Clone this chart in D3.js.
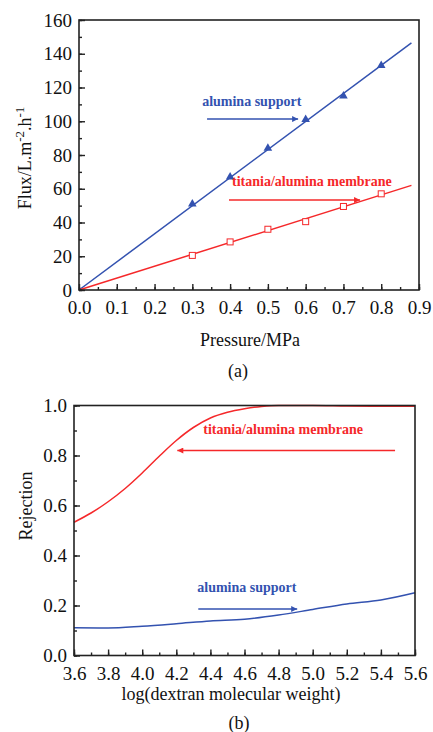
<!DOCTYPE html>
<html>
<head>
<meta charset="utf-8">
<script src="https://cdn.jsdelivr.net/npm/d3@7"></script>
<style>
  body { margin: 0; background: #fff; }
</style>
</head>
<body>
<script>
// panel (a): flux vs pressure
const pressure = [0.3, 0.4, 0.5, 0.6, 0.7, 0.8];
const fluxSupport = [51, 67, 84, 101, 115, 133];
const fluxMembrane = [20.5, 28.5, 36, 40.5, 49.5, 57];
const fitSupport = [[0, 0], [0.88, 146.5]];
const fitMembrane = [[0, 0], [0.88, 62]];
const xTicksA = [0, 0.1, 0.2, 0.3, 0.4, 0.5, 0.6, 0.7, 0.8, 0.9];
const yTicksA = [0, 20, 40, 60, 80, 100, 120, 140, 160];

// panel (b): rejection vs log MW
const logMwMembrane = [3.6, 3.7, 3.8, 3.9, 4.0, 4.1, 4.2, 4.3, 4.4, 4.5, 4.6, 4.7, 4.8, 5.0, 5.2, 5.4, 5.6];
const rejMembrane = [0.533, 0.57, 0.615, 0.668, 0.73, 0.797, 0.86, 0.912, 0.95, 0.973, 0.987, 0.996, 1.0, 1.0, 0.998, 0.997, 0.997];
const logMwSupport = [3.6, 3.8, 4.0, 4.2, 4.4, 4.6, 4.8, 5.0, 5.2, 5.4, 5.6];
const rejSupport = [0.111, 0.11, 0.117, 0.127, 0.138, 0.145, 0.162, 0.184, 0.206, 0.222, 0.251];
const xTicksB = [3.6, 3.8, 4.0, 4.2, 4.4, 4.6, 4.8, 5.0, 5.2, 5.4, 5.6];
const yTicksB = [0, 0.2, 0.4, 0.6, 0.8, 1.0];

const blue = "#3352b0";
const red = "#f5282a";
const serif = "'Liberation Serif', 'Times New Roman', Times, 'DejaVu Serif', serif";

const svg = d3.select("body").append("svg")
  .attr("width", 433)
  .attr("height", 732)
  .attr("font-family", serif);

const defs = svg.append("defs");
[["arrBlue", blue], ["arrRed", red]].forEach(([id, c]) => {
  defs.append("marker")
    .attr("id", id)
    .attr("viewBox", "0 0 10 10")
    .attr("refX", 10).attr("refY", 5)
    .attr("markerWidth", 9).attr("markerHeight", 6)
    .attr("markerUnits", "userSpaceOnUse")
    .attr("orient", "auto")
    .append("path")
    .attr("d", "M0,0L10,5L0,10z")
    .attr("fill", c);
});

function frame(g, x, y, xTicks, yTicks, xMinorStep, yMinorStep, xFmt, yFmt) {
  const [x0, x1] = x.range();
  const [y0, y1] = y.range();
  g.append("rect")
    .attr("x", x0).attr("y", y1)
    .attr("width", x1 - x0).attr("height", y0 - y1)
    .attr("fill", "none").attr("stroke", "#222").attr("stroke-width", 1.6);

  const xd = x.domain(), yd = y.domain();
  const xMinor = d3.range(xd[0], xd[1] + 1e-9, xMinorStep);
  const yMinor = d3.range(yd[0], yd[1] + 1e-9, yMinorStep);

  const style = a => {
    a.attr("font-family", serif);
    a.select(".domain").remove();
    a.selectAll("line").attr("stroke", "#222").attr("stroke-width", 1.4);
    a.selectAll("text").attr("fill", "#111").style("font-size", "19px").style("font-family", serif);
  };

  // bottom ticks (inside)
  g.append("g").attr("transform", `translate(0,${y0})`)
    .call(d3.axisBottom(x).tickValues(xMinor).tickSize(-3).tickFormat(""))
    .call(style);
  g.append("g").attr("transform", `translate(0,${y0})`)
    .call(d3.axisBottom(x).tickValues(xTicks).tickSize(-6).tickPadding(11).tickFormat(xFmt))
    .call(style);

  // left ticks (inside)
  g.append("g").attr("transform", `translate(${x0},0)`)
    .call(d3.axisLeft(y).tickValues(yMinor).tickSize(-3).tickFormat(""))
    .call(style);
  g.append("g").attr("transform", `translate(${x0},0)`)
    .call(d3.axisLeft(y).tickValues(yTicks).tickSize(-6).tickPadding(7).tickFormat(yFmt))
    .call(style);
}

function note(g, x, y, label, tx, ty, ax0, ax1, ay, color, marker) {
  g.append("text")
    .attr("x", x(tx)).attr("y", y(ty))
    .attr("fill", color)
    .style("font-size", "14px").style("font-weight", "bold")
    .text(label);
  g.append("line")
    .attr("x1", x(ax0)).attr("x2", x(ax1))
    .attr("y1", y(ay)).attr("y2", y(ay))
    .attr("stroke", color).attr("stroke-width", 1.5)
    .attr("marker-end", `url(#${marker})`);
}

// ---------- panel (a) ----------
const xA = d3.scaleLinear().domain([0, 0.9]).range([79, 419]);
const yA = d3.scaleLinear().domain([0, 160]).range([290, 20]);
const gA = svg.append("g");

const lineA = d3.line().x(d => xA(d[0])).y(d => yA(d[1]));
gA.append("path").attr("d", lineA(fitSupport))
  .attr("fill", "none").attr("stroke", blue).attr("stroke-width", 1.5);
gA.append("path").attr("d", lineA(fitMembrane))
  .attr("fill", "none").attr("stroke", red).attr("stroke-width", 1.5);

gA.selectAll(".tri").data(pressure).enter().append("path")
  .attr("class", "tri")
  .attr("transform", (d, i) => `translate(${xA(d)},${yA(fluxSupport[i])})`)
  .attr("d", d3.symbol(d3.symbolTriangle, 32))
  .attr("fill", blue);
gA.selectAll(".sq").data(pressure).enter().append("rect")
  .attr("class", "sq")
  .attr("x", d => xA(d) - 3).attr("y", (d, i) => yA(fluxMembrane[i]) - 3)
  .attr("width", 6).attr("height", 6)
  .attr("fill", "#fff").attr("stroke", red).attr("stroke-width", 1);

frame(gA, xA, yA, xTicksA, yTicksA, 0.05, 10, d3.format(".1f"), d3.format("d"));

note(gA, xA, yA, "alumina support", 0.326, 109, 0.339, 0.58, 101.3, blue, "arrBlue");
note(gA, xA, yA, "titania/alumina membrane", 0.405, 61.6, 0.397, 0.744, 53.3, red, "arrRed");

gA.append("text").attr("x", 250).attr("y", 346).attr("text-anchor", "middle")
  .style("font-size", "18px").attr("fill", "#111").text("Pressure/MPa");
gA.append("text").attr("x", 238).attr("y", 377).attr("text-anchor", "middle")
  .style("font-size", "18px").attr("fill", "#111").text("(a)");

const yLabA = gA.append("text")
  .attr("transform", "translate(31,158) rotate(-90)")
  .attr("text-anchor", "middle")
  .style("font-size", "18px").attr("fill", "#111");
yLabA.append("tspan").text("Flux/L.m");
yLabA.append("tspan").attr("dy", -7).style("font-size", "13px").text("-2");
yLabA.append("tspan").attr("dy", 7).text(".h");
yLabA.append("tspan").attr("dy", -7).style("font-size", "13px").text("-1");

// ---------- panel (b) ----------
const xB = d3.scaleLinear().domain([3.6, 5.6]).range([74, 415]);
const yB = d3.scaleLinear().domain([0, 1]).range([655.5, 405.5]);
const gB = svg.append("g");

const lineB = d3.line().x(d => xB(d[0])).y(d => yB(d[1])).curve(d3.curveMonotoneX);
gB.append("path").attr("d", lineB(logMwMembrane.map((v, i) => [v, rejMembrane[i]])))
  .attr("fill", "none").attr("stroke", red).attr("stroke-width", 1.5);
gB.append("path").attr("d", lineB(logMwSupport.map((v, i) => [v, rejSupport[i]])))
  .attr("fill", "none").attr("stroke", blue).attr("stroke-width", 1.5);

frame(gB, xB, yB, xTicksB, yTicksB, 0.1, 0.1, d3.format(".1f"), d3.format(".1f"));

note(gB, xB, yB, "titania/alumina membrane", 4.358, 0.888, 5.483, 4.206, 0.82, red, "arrRed");
note(gB, xB, yB, "alumina support", 4.323, 0.254, 4.329, 4.909, 0.186, blue, "arrBlue");

gB.append("text").attr("x", 231).attr("y", 700).attr("text-anchor", "middle")
  .style("font-size", "18px").attr("fill", "#111").text("log(dextran molecular weight)");
gB.append("text").attr("x", 239).attr("y", 729).attr("text-anchor", "middle")
  .style("font-size", "18px").attr("fill", "#111").text("(b)");
gB.append("text")
  .attr("transform", "translate(32,506) rotate(-90)")
  .attr("text-anchor", "middle")
  .style("font-size", "18px").attr("fill", "#111").text("Rejection");
</script>
</body>
</html>
